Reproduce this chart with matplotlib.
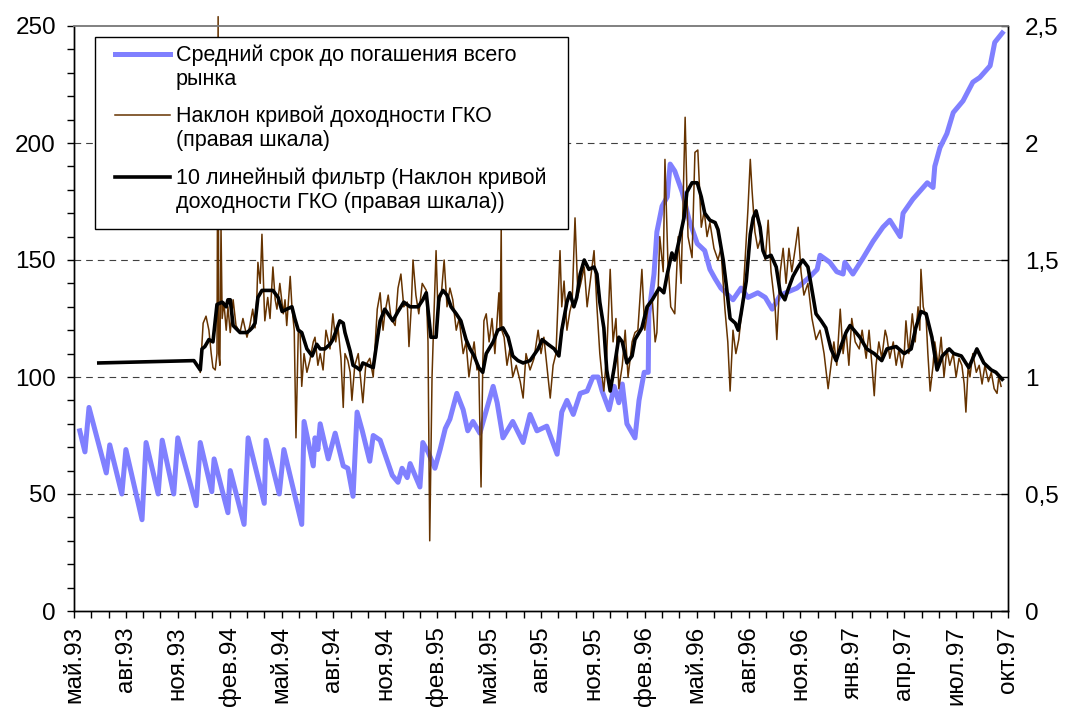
import numpy as np
import matplotlib
matplotlib.use("Agg")
import matplotlib.pyplot as plt
from matplotlib.ticker import MultipleLocator, FuncFormatter
from matplotlib.lines import Line2D
from matplotlib.patches import Rectangle

plt.rcParams['font.family'] = ['Liberation Sans', 'DejaVu Sans']

# день отсчёта оси X (дни от этой даты)
start = np.datetime64('1993-05-21')
months_ru = ['янв', 'фев', 'мар', 'апр', 'май', 'июн', 'июл', 'авг', 'сен', 'окт', 'ноя', 'дек']

# средний срок до погашения (дни, левая шкала)
term = [(10, 77), (19, 68), (26, 87), (40, 74), (56, 59), (62, 71), (83, 50), (90, 69),
        (118, 39), (125, 72), (146, 50), (153, 73), (173, 50), (180, 74), (212, 45), (219, 72),
        (239, 51), (243, 65), (267, 42), (271, 60), (295, 37), (302, 74), (330, 46), (333, 73),
        (356, 50), (364, 69), (395, 37), (399, 81), (415, 62), (418, 74), (423, 69), (427, 80),
        (441, 65), (453, 76), (467, 62), (475, 61), (484, 49), (491, 85), (500, 77), (513, 64),
        (519, 75), (531, 73), (545, 63), (552, 58), (562, 55), (569, 61), (578, 57), (583, 63),
        (600, 53), (605, 72), (614, 68), (626, 61), (635, 69), (644, 78), (652, 82), (664, 93),
        (675, 86), (683, 77), (692, 81), (704, 76), (727, 96), (734, 89), (744, 74), (761, 81),
        (779, 72), (791, 84), (803, 77), (820, 79), (838, 67), (846, 85), (855, 90), (866, 84),
        (878, 93), (890, 94), (900, 100), (909, 100), (916, 94), (928, 86), (937, 96), (945, 89),
        (951, 97), (959, 80), (973, 74), (980, 90), (989, 102), (996, 102), (997, 127), (1006, 144),
        (1011, 162), (1020, 173), (1029, 177), (1034, 191), (1042, 188), (1055, 179), (1067, 167),
        (1081, 157), (1094, 154), (1103, 146), (1112, 142), (1122, 138), (1143, 133), (1157, 138),
        (1169, 134), (1186, 136), (1199, 134), (1211, 129), (1225, 135), (1254, 138), (1277, 143),
        (1289, 146), (1294, 152), (1311, 149), (1323, 145), (1334, 144), (1337, 149), (1351, 144),
        (1369, 151), (1386, 158), (1403, 164), (1415, 167), (1433, 160), (1438, 170), (1455, 176),
        (1480, 183), (1490, 181), (1493, 190), (1502, 198), (1514, 204), (1525, 213), (1542, 218),
        (1559, 226), (1571, 228), (1589, 233), (1597, 243), (1610, 247)]

# наклон кривой доходности ГКО (правая шкала)
slope = [(219, 1.02), (224, 1.23), (229, 1.26), (234, 1.20), (238, 1.10), (241, 1.04), (245, 1.03),
         (248, 1.10), (250, 2.54), (251, 1.10), (253, 1.05), (255, 1.64), (257, 1.25), (260, 1.32),
         (264, 1.20), (267, 1.30), (271, 1.19), (276, 1.33), (281, 1.22), (288, 1.19), (293, 1.25),
         (300, 1.17), (305, 1.22), (310, 1.29), (314, 1.21), (317, 1.33), (319, 1.49), (323, 1.40),
         (326, 1.61), (330, 1.30), (331, 1.24), (336, 1.34), (340, 1.25), (345, 1.47), (349, 1.33),
         (352, 1.29), (357, 1.40), (363, 1.27), (366, 1.33), (369, 1.22), (375, 1.43), (378, 1.30),
         (382, 1.20), (385, 0.74), (389, 1.19), (392, 1.20), (395, 0.96), (399, 1.10), (404, 1.02),
         (409, 1.07), (415, 1.15), (418, 1.17), (423, 1.05), (427, 1.10), (432, 1.03), (437, 1.20),
         (444, 1.12), (449, 1.27), (454, 1.15), (458, 1.21), (463, 1.08), (467, 0.87), (470, 1.10),
         (475, 1.07), (479, 1.02), (482, 0.90), (487, 1.05), (493, 1.10), (496, 1.02), (501, 0.89),
         (506, 1.05), (513, 1.08), (519, 1.00), (526, 1.29), (531, 1.36), (536, 1.20), (539, 1.27),
         (545, 1.35), (550, 1.25), (557, 1.22), (562, 1.38), (567, 1.44), (572, 1.30), (578, 1.32),
         (581, 1.13), (585, 1.30), (588, 1.50), (593, 1.35), (598, 1.27), (604, 1.40), (611, 1.37),
         (614, 1.15), (617, 0.30), (621, 1.00), (624, 1.24), (628, 1.54), (631, 1.30), (637, 1.35),
         (642, 1.50), (647, 1.30), (652, 1.38), (657, 1.33), (663, 1.20), (668, 1.25), (675, 1.10),
         (680, 1.15), (685, 1.00), (689, 1.07), (694, 1.15), (699, 1.03), (702, 1.05), (706, 0.53),
         (709, 1.05), (711, 1.24), (715, 1.27), (720, 1.15), (725, 1.25), (730, 1.10), (737, 1.36),
         (739, 1.20), (741, 1.64), (742, 1.20), (746, 1.17), (751, 1.05), (756, 1.12), (761, 1.00),
         (767, 1.05), (774, 0.98), (779, 0.91), (784, 1.10), (791, 1.03), (798, 1.08), (805, 1.20),
         (810, 1.10), (815, 1.17), (820, 1.05), (826, 0.91), (831, 1.05), (836, 1.10), (843, 1.54),
         (846, 1.30), (850, 1.41), (855, 1.20), (860, 1.28), (864, 1.32), (869, 1.68), (874, 1.35),
         (879, 1.40), (885, 1.47), (890, 1.30), (895, 1.40), (902, 1.54), (907, 1.30), (912, 1.10),
         (916, 1.00), (919, 0.94), (924, 1.10), (930, 1.46), (935, 1.15), (940, 1.25), (945, 0.95),
         (951, 1.05), (956, 1.20), (961, 1.00), (968, 1.15), (973, 1.19), (978, 1.20), (985, 1.46),
         (990, 1.20), (996, 1.30), (1003, 1.33), (1008, 1.15), (1011, 1.19), (1016, 1.60), (1022, 1.45),
         (1025, 1.93), (1030, 1.50), (1035, 1.30), (1042, 1.27), (1048, 1.60), (1053, 1.40), (1060, 2.11),
         (1065, 1.60), (1072, 1.51), (1077, 1.96), (1082, 1.97), (1088, 1.64), (1093, 1.71), (1098, 1.60),
         (1103, 1.66), (1110, 1.55), (1117, 1.50), (1122, 1.55), (1129, 1.29), (1134, 1.15), (1138, 0.94),
         (1143, 1.20), (1148, 1.10), (1153, 1.16), (1159, 1.30), (1164, 1.50), (1169, 1.72), (1173, 1.93),
         (1176, 1.80), (1181, 1.62), (1186, 1.55), (1192, 1.60), (1199, 1.50), (1204, 1.67), (1209, 1.45),
         (1216, 1.30), (1219, 1.16), (1225, 1.45), (1230, 1.55), (1235, 1.40), (1240, 1.55), (1245, 1.45),
         (1251, 1.55), (1256, 1.64), (1261, 1.45), (1266, 1.35), (1273, 1.40), (1280, 1.25), (1287, 1.16),
         (1294, 1.20), (1301, 1.10), (1308, 0.95), (1313, 1.05), (1318, 1.15), (1323, 1.05), (1329, 1.29),
         (1334, 1.10), (1339, 1.20), (1344, 1.05), (1349, 1.25), (1355, 1.15), (1362, 1.12), (1367, 1.20),
         (1374, 1.08), (1379, 1.20), (1384, 1.05), (1388, 0.92), (1391, 1.05), (1396, 1.15), (1401, 1.08),
         (1407, 1.20), (1410, 1.17), (1415, 1.08), (1421, 1.15), (1426, 1.05), (1431, 1.12), (1436, 1.04),
         (1440, 1.10), (1443, 1.24), (1448, 1.10), (1454, 1.27), (1459, 1.15), (1464, 1.30), (1467, 1.20),
         (1469, 1.46), (1473, 1.30), (1478, 1.25), (1481, 1.10), (1485, 0.94), (1490, 1.05), (1493, 1.15),
         (1499, 1.05), (1504, 1.17), (1509, 1.00), (1514, 1.12), (1519, 1.05), (1525, 1.10), (1530, 1.00),
         (1535, 1.08), (1540, 1.05), (1544, 0.97), (1547, 0.85), (1551, 1.05), (1554, 1.00), (1559, 1.10),
         (1565, 1.02), (1570, 1.05), (1575, 0.97), (1580, 1.05), (1586, 0.98), (1591, 1.02), (1596, 0.95),
         (1601, 0.93), (1604, 1.00), (1608, 0.96)]

# 10-периодный линейный фильтр наклона (правая шкала)
smooth = [(43, 1.06), (208, 1.07), (219, 1.03), (222, 1.12), (227, 1.13), (234, 1.16), (241, 1.15),
          (248, 1.31), (257, 1.32), (264, 1.30), (267, 1.33), (271, 1.33), (276, 1.22), (288, 1.19),
          (300, 1.19), (305, 1.20), (309, 1.21), (314, 1.23), (319, 1.34), (326, 1.37), (336, 1.37),
          (345, 1.37), (354, 1.34), (361, 1.28), (369, 1.29), (378, 1.30), (383, 1.25), (389, 1.20),
          (395, 1.19), (404, 1.12), (413, 1.09), (421, 1.14), (427, 1.12), (435, 1.12), (444, 1.14),
          (449, 1.16), (458, 1.22), (461, 1.24), (467, 1.23), (470, 1.19), (479, 1.11), (484, 1.05),
          (491, 1.04), (496, 1.03), (501, 1.06), (510, 1.05), (519, 1.04), (526, 1.16), (531, 1.24),
          (539, 1.29), (553, 1.24), (562, 1.28), (572, 1.32), (583, 1.30), (597, 1.30), (605, 1.33),
          (611, 1.36), (619, 1.17), (628, 1.17), (633, 1.34), (640, 1.37), (647, 1.35), (654, 1.30),
          (663, 1.27), (671, 1.24), (680, 1.16), (687, 1.12), (694, 1.09), (702, 1.04), (709, 1.02),
          (715, 1.10), (727, 1.15), (735, 1.20), (744, 1.21), (753, 1.17), (761, 1.09), (770, 1.07),
          (779, 1.06), (791, 1.07), (805, 1.12), (812, 1.16), (822, 1.14), (833, 1.12), (841, 1.09),
          (846, 1.20), (855, 1.32), (860, 1.36), (867, 1.30), (872, 1.34), (878, 1.44), (885, 1.50),
          (893, 1.46), (902, 1.47), (907, 1.44), (912, 1.32), (919, 1.21), (924, 1.03), (930, 0.94),
          (937, 1.04), (945, 1.17), (951, 1.15), (959, 1.06), (968, 1.09), (973, 1.16), (985, 1.21),
          (994, 1.30), (1003, 1.33), (1015, 1.38), (1023, 1.36), (1029, 1.44), (1037, 1.53), (1042, 1.50),
          (1051, 1.60), (1058, 1.68), (1063, 1.79), (1072, 1.83), (1081, 1.83), (1088, 1.77), (1094, 1.70),
          (1103, 1.67), (1112, 1.66), (1117, 1.63), (1126, 1.50), (1131, 1.40), (1138, 1.25), (1147, 1.23),
          (1152, 1.20), (1157, 1.27), (1166, 1.41), (1173, 1.61), (1178, 1.68), (1183, 1.71), (1190, 1.64),
          (1195, 1.54), (1200, 1.51), (1209, 1.52), (1218, 1.47), (1225, 1.36), (1233, 1.33), (1238, 1.37),
          (1247, 1.43), (1256, 1.47), (1264, 1.50), (1273, 1.47), (1278, 1.40), (1287, 1.27), (1296, 1.24),
          (1304, 1.21), (1313, 1.12), (1322, 1.07), (1330, 1.13), (1339, 1.19), (1346, 1.22), (1353, 1.20),
          (1363, 1.17), (1375, 1.12), (1388, 1.10), (1401, 1.07), (1410, 1.12), (1426, 1.13), (1440, 1.10),
          (1452, 1.12), (1460, 1.21), (1469, 1.28), (1478, 1.27), (1488, 1.17), (1497, 1.03), (1506, 1.09),
          (1518, 1.12), (1526, 1.10), (1539, 1.09), (1552, 1.04), (1566, 1.12), (1578, 1.06), (1591, 1.03),
          (1599, 1.02), (1610, 0.99)]

labels = ['Средний срок до погашения всего\nрынка',
          'Наклон кривой доходности ГКО\n(правая шкала)',
          '10 линейный фильтр (Наклон кривой\nдоходности ГКО (правая шкала))']
colors = ['#8080FF', '#663300', '#000000']
widths = [3.6, 1.1, 2.6]


def to_dates(pairs):
    d, v = np.array(pairs).T
    return start + d.astype(int).astype('timedelta64[D]'), v


W, H = 1066, 711
fig = plt.figure(figsize=(W / 100, H / 100), dpi=100)
ax = fig.add_axes([74 / W, 1 - 611 / H, 934 / W, 585 / H])
ax2 = ax.twinx()

x, y = to_dates(term)
ax.plot(x, y, color=colors[0], lw=widths[0], solid_joinstyle='round')
x, y = to_dates(slope)
ax2.plot(x, y, color=colors[1], lw=widths[1], clip_on=False)
x, y = to_dates(smooth)
ax2.plot(x, y, color=colors[2], lw=widths[2], solid_joinstyle='round')

# оси
ax.set_xlim(start, start + np.timedelta64(1620, 'D'))
ax.set_ylim(0, 250)
ax2.set_ylim(0, 2.5)

ticks = [start + np.timedelta64(90 * k, 'D') for k in range(19)]
tick_labels = []
for t in ticks:
    mi = t.astype('datetime64[M]').astype(int)
    tick_labels.append(f'{months_ru[mi % 12]}.{(mi // 12 + 1970) % 100:02d}')
ax.set_xticks(ticks)
ax.set_xticklabels(tick_labels, rotation=90, fontsize=17.5)
ax.set_xticks([start + np.timedelta64(30 * k, 'D') for k in range(55)], minor=True)
ax.tick_params(axis='x', which='both', direction='out', length=5, width=1, pad=6)

ax.yaxis.set_major_locator(MultipleLocator(50))
ax.yaxis.set_minor_locator(MultipleLocator(10))
ax.tick_params(axis='y', which='both', direction='out', length=5, width=1, labelsize=17.5, pad=8)

ax2.yaxis.set_major_locator(MultipleLocator(0.5))
ax2.yaxis.set_major_formatter(FuncFormatter(lambda v, p: f'{v:g}'.replace('.', ',')))
ax2.tick_params(axis='y', direction='in', length=5, width=1, labelsize=17.5, pad=12)

for yv in [50, 100, 150, 200]:
    ax.axhline(yv, color='#404040', lw=0.8, dashes=(6, 4.5), zorder=0.5)

for a in (ax, ax2):
    for s in ['left', 'right', 'bottom']:
        a.spines[s].set_color('black')
        a.spines[s].set_linewidth(1)
    a.spines['top'].set_color('#808080')
    a.spines['top'].set_linewidth(1.2)

# легенда (маркер на уровне первой строки подписи)
fig.add_artist(Rectangle((95 / W, 1 - 229 / H), 473 / W, 192 / H, transform=fig.transFigure,
                         facecolor='white', edgecolor='black', lw=1, zorder=5))
for i, first_base in enumerate([62, 123, 185]):
    fig.add_artist(Line2D([115 / W, 170 / W], [1 - (first_base - 8) / H] * 2, transform=fig.transFigure,
                          color=colors[i], lw=widths[i], zorder=6))
    fig.text(176 / W, 1 - (first_base + 23) / H, labels[i], fontsize=15.5, va='baseline', ha='left',
             linespacing=1.17, zorder=6)

fig.savefig('out.png', dpi=100)
